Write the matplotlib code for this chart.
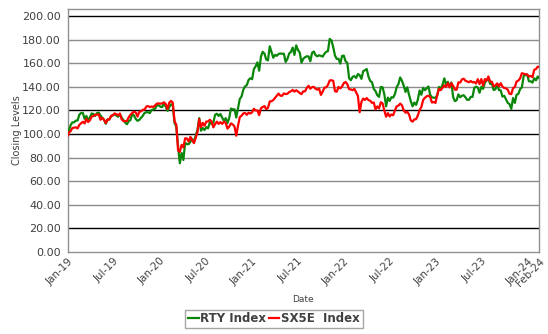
import matplotlib
matplotlib.use("Agg")
import matplotlib.pyplot as plt
import pandas as pd

# Weekly closing levels, rebased to 100 at the start of 2019
start_date = "2019-01-02"
end_date = "2024-02-14"
rty_start = 101.2
sx5e_start = 99.1
rty_end = 147.6
sx5e_end = 156.9

rty_2019 = [102.3, 107.3, 109.9, 109.9, 111.4, 111.5, 116.3, 117.9, 117.9, 112.9, 115.3, 111.6, 114.2,
            117.5, 117.0, 115.4, 117.8, 118.2, 115.7, 113.8, 112.2, 108.7, 112.3, 112.5, 114.9, 116.2,
            116.8, 115.6, 114.7, 116.8, 113.8, 111.9, 109.7, 108.3, 110.9, 111.8, 117.0, 115.7, 112.8,
            111.2, 112.0, 113.8, 115.5, 117.9, 118.5, 118.4, 117.8, 120.4, 120.9, 121.5, 124.4, 124.4]
rty_2020 = [123.1, 122.9, 126.1, 123.2, 119.7, 122.9, 125.2, 124.4, 109.4, 106.2, 89.7, 75.2, 83.9,
            78.0, 92.5, 91.5, 91.4, 93.5, 95.9, 93.1, 98.6, 103.4, 113.5, 102.8, 105.1, 103.4,
            105.9, 104.8, 109.7, 108.7, 109.7, 116.3, 117.2, 115.3, 117.0, 113.9, 111.0, 113.5, 109.3,
            113.5, 121.6, 120.9, 121.0, 114.0, 121.9, 129.7, 131.8, 137.6, 140.4, 141.5, 145.9, 147.3]
rty_2021 = [146.5, 155.1, 157.4, 160.8, 153.7, 165.6, 169.7, 168.2, 163.2, 162.5, 174.4, 169.4, 164.7,
            167.1, 166.3, 167.9, 168.3, 168.0, 168.1, 161.1, 163.6, 168.2, 169.6, 173.3, 167.1, 175.2,
            171.3, 169.1, 160.5, 163.8, 165.1, 165.9, 165.8, 161.7, 168.8, 170.0, 166.8, 165.9, 166.8,
            166.3, 165.6, 168.0, 169.7, 170.3, 180.7, 179.3, 173.7, 166.5, 163.7, 163.8, 159.7, 166.2,
            166.5]
rty_2022 = [161.7, 160.3, 147.4, 145.6, 148.5, 149.1, 147.6, 150.9, 149.9, 146.8, 153.3, 154.1,
            155.1, 148.6, 145.0, 143.9, 138.2, 136.4, 132.9, 131.5, 139.9, 139.6, 133.5, 123.5, 130.9,
            128.1, 131.2, 130.9, 133.9, 139.8, 142.4, 148.0, 145.1, 140.9, 135.7, 139.6, 133.3, 127.9,
            123.5, 126.7, 124.7, 129.2, 136.9, 133.3, 139.1, 137.2, 138.7, 140.3, 133.3, 131.0, 130.9,
            130.6]
rty_2023 = [132.9, 139.9, 138.4, 141.7, 147.2, 142.2, 144.3, 140.1, 143.7, 131.5, 127.9, 128.7, 133.6,
            131.2, 132.5, 132.9, 131.1, 129.0, 129.0, 131.5, 131.5, 139.1, 140.2, 139.3, 135.0, 140.1,
            138.3, 143.5, 145.6, 147.2, 142.5, 142.7, 137.3, 137.9, 142.5, 137.3, 137.0, 131.7, 132.4,
            129.4, 126.4, 125.3, 121.3, 130.5, 126.4, 133.3, 134.0, 138.1, 139.5, 149.0, 150.2, 150.3]
rty_2024 = [144.7, 144.7, 143.6, 147.3, 145.5, 148.8]

sx5e_2019 = [101.3, 102.3, 105.0, 105.4, 105.7, 104.7, 107.8, 109.1, 110.4, 109.0, 112.9, 110.2, 111.7,
             114.8, 115.2, 116.3, 116.4, 116.7, 112.1, 113.7, 112.1, 109.3, 112.4, 112.2, 115.5, 115.7,
             117.5, 116.8, 115.9, 117.4, 112.5, 111.0, 110.9, 111.1, 114.2, 116.4, 117.9, 119.0, 118.3,
             114.8, 118.9, 119.2, 120.6, 120.7, 123.3, 123.7, 122.8, 123.4, 122.9, 124.3, 125.8, 126.0]
sx5e_2020 = [125.7, 126.0, 126.9, 125.4, 121.3, 126.6, 128.1, 126.6, 110.9, 107.7, 86.2, 84.9, 90.9,
             88.7, 96.4, 96.2, 93.6, 97.6, 94.8, 92.3, 96.8, 101.6, 112.7, 105.9, 109.5, 107.0,
             110.6, 110.6, 112.1, 110.6, 105.7, 108.4, 110.5, 108.6, 110.1, 108.6, 110.4, 109.6, 104.6,
             106.3, 109.0, 108.1, 106.5, 98.6, 107.0, 114.3, 115.5, 117.5, 117.9, 116.3, 118.1, 117.4]
sx5e_2021 = [118.4, 121.4, 119.9, 120.0, 116.0, 121.8, 122.9, 123.7, 121.1, 122.2, 127.6, 127.8, 128.8,
             130.6, 132.5, 134.3, 132.5, 132.4, 134.4, 133.9, 134.1, 135.6, 136.2, 137.4, 136.0, 137.1,
             136.1, 134.8, 133.8, 136.2, 136.2, 139.1, 140.9, 138.4, 139.8, 140.0, 138.3, 137.6, 138.6,
             133.2, 135.9, 139.3, 139.6, 141.6, 145.4, 145.6, 145.1, 136.3, 135.9, 139.9, 138.7, 140.3,
             143.2]
sx5e_2022 = [144.1, 142.3, 138.1, 137.8, 137.2, 138.3, 135.4, 132.3, 118.5, 127.2, 130.1, 128.9,
             130.5, 128.8, 128.2, 126.4, 126.7, 120.9, 123.4, 121.8, 126.9, 126.0, 119.9, 114.7, 117.7,
             114.9, 116.6, 115.9, 120.1, 123.5, 124.1, 125.8, 124.3, 120.0, 118.1, 118.9, 116.6, 111.6,
             110.5, 112.4, 112.6, 115.8, 120.4, 122.9, 128.9, 130.7, 132.0, 132.5, 131.3, 126.7, 127.2,
             126.4]
sx5e_2023 = [133.2, 138.3, 137.2, 139.2, 141.3, 139.9, 143.2, 139.5, 143.1, 140.9, 137.6, 137.6, 143.8,
             143.6, 146.3, 146.9, 145.2, 144.6, 143.9, 145.0, 143.8, 144.1, 142.9, 146.5, 142.3, 146.6,
             141.1, 146.6, 145.2, 148.8, 144.4, 144.3, 140.4, 141.3, 142.9, 140.5, 143.1, 140.2, 139.1,
             138.7, 137.6, 134.1, 133.8, 139.0, 139.8, 144.6, 145.3, 147.2, 151.6, 151.1, 150.7, 150.6]
sx5e_2024 = [148.7, 149.3, 148.2, 154.4, 155.1, 157.1]

tick_dates = ["2019-01-01", "2019-07-01", "2020-01-01", "2020-07-01", "2021-01-01", "2021-07-01",
              "2022-01-01", "2022-07-01", "2023-01-01", "2023-07-01", "2024-01-01", end_date]
tick_labels = ["Jan-19", "Jul-19", "Jan-20", "Jul-20", "Jan-21", "Jul-21",
               "Jan-22", "Jul-22", "Jan-23", "Jul-23", "Jan-24", "Feb-24"]
y_ticks = [0, 20, 40, 60, 80, 100, 120, 140, 160, 180, 200]

series_names = ["RTY Index", "SX5E  Index"]

dates = ([pd.Timestamp(start_date)]
         + list(pd.date_range("2019-01-04", "2024-02-09", freq="W-FRI"))
         + [pd.Timestamp(end_date)])
rty = [rty_start] + rty_2019 + rty_2020 + rty_2021 + rty_2022 + rty_2023 + rty_2024 + [rty_end]
sx5e = [sx5e_start] + sx5e_2019 + sx5e_2020 + sx5e_2021 + sx5e_2022 + sx5e_2023 + sx5e_2024 + [sx5e_end]
assert len(dates) == len(rty) == len(sx5e)

W, H = 548, 334
fig = plt.figure(figsize=(W / 100, H / 100), dpi=100)
ax = fig.add_axes([68 / W, 1 - 252 / H, (539 - 68) / W, (252 - 9) / H])

text_col = "#404040"
frame_col = "#909090"
dark_lines = {20, 100, 120, 200}

for v in y_ticks[1:]:
    ax.axhline(v, color="black" if v in dark_lines else "#8c8c8c", lw=1.0, zorder=1)

ax.plot(dates, rty, color="#0a870a", lw=1.6, label=series_names[0], zorder=3)
ax.plot(dates, sx5e, color="#ff0000", lw=1.6, label=series_names[1], zorder=3)

ax.set_ylim(0, 206)
ax.set_xlim(pd.Timestamp("2019-01-01"), pd.Timestamp(end_date))
ax.set_yticks(y_ticks)
ax.set_yticklabels([f"{v:.2f}" for v in y_ticks], fontsize=8, color=text_col)
ax.set_xticks([pd.Timestamp(d) for d in tick_dates])
ax.set_xticklabels(tick_labels, rotation=45, ha="right", va="top",
                   rotation_mode="anchor", fontsize=7.5, color=text_col)
ax.tick_params(axis="both", length=0)
ax.tick_params(axis="y", pad=5)
ax.tick_params(axis="x", pad=3)

for s in ax.spines.values():
    s.set_color(frame_col)
    s.set_linewidth(1.0)

fig.text(17 / W, 1 - 130 / H, "Closing Levels", rotation=90, ha="center", va="center",
         fontsize=7, color=text_col)
fig.text(303 / W, 1 - 299 / H, "Date", ha="center", va="center", fontsize=6.5, color=text_col)

leg = fig.legend(loc="center", bbox_to_anchor=(274 / W, 1 - 319 / H), ncol=2,
                 frameon=True, fancybox=False, edgecolor=frame_col,
                 handlelength=0.9, handletextpad=0.15, columnspacing=0.2,
                 borderpad=0.25, borderaxespad=0,
                 prop={"weight": "bold", "size": 8.5})
for t in leg.get_texts():
    t.set_color(text_col)
leg.get_frame().set_linewidth(1.0)

fig.savefig("out.png", dpi=100)
